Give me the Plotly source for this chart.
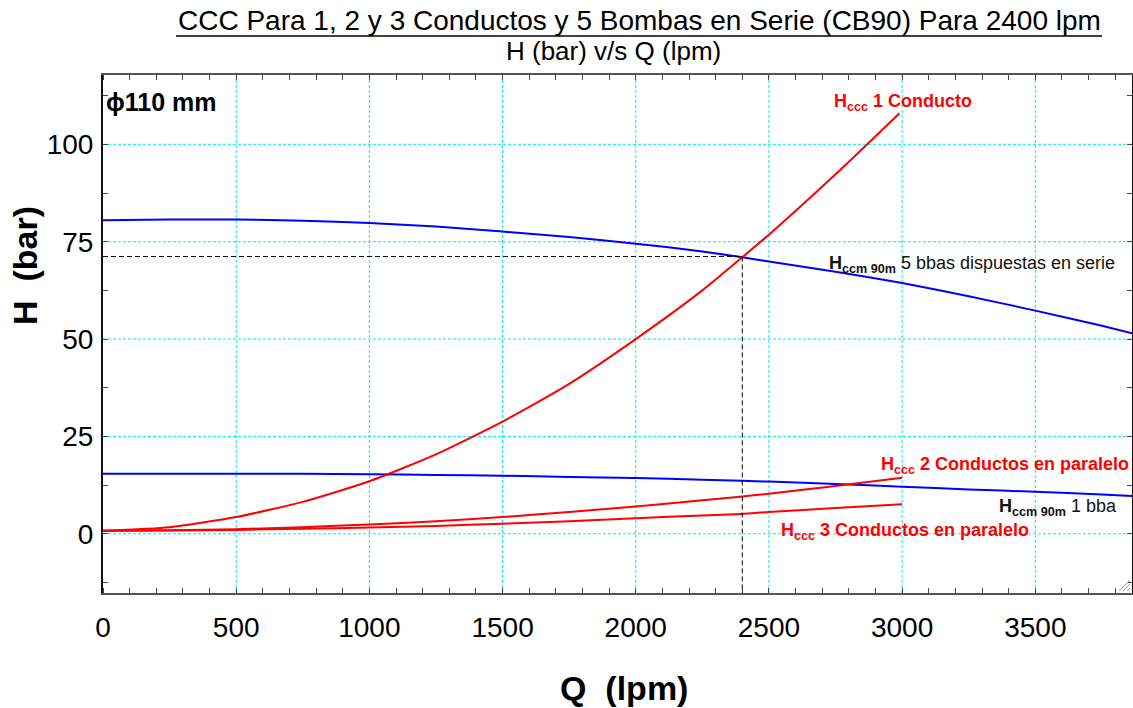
import plotly.graph_objects as go

# ---------------- data ----------------
Q_pump = [0, 250, 500, 750, 1000, 1250, 1500, 1750, 2000, 2250, 2400, 2500, 2750, 3000, 3250, 3500, 3750, 3863]
H_5bbas = [80.5, 80.7, 80.7, 80.4, 79.8, 78.9, 77.6, 76.2, 74.5, 72.5, 71.0, 69.9, 67.3, 64.4, 61.0, 57.3, 53.4, 51.5]
H_1bba = [15.4, 15.4, 15.4, 15.4, 15.3, 15.1, 14.9, 14.6, 14.3, 13.9, 13.6, 13.4, 12.8, 12.1, 11.4, 10.8, 10.1, 9.7]

Q_pipe = [0, 250, 500, 750, 1000, 1250, 1500, 1750, 2000, 2250, 2400, 2500, 2750, 2990]
H_1cond = [0.8, 1.7, 4.3, 8.2, 13.5, 20.4, 28.8, 38.5, 50.0, 62.5, 71.0, 76.8, 92.3, 108.0]
Q_pipe23 = [0, 250, 500, 750, 1000, 1250, 1500, 1750, 2000, 2250, 2400, 2500, 2750, 3000]
H_2cond = [0.8, 0.9, 1.2, 1.7, 2.4, 3.2, 4.3, 5.6, 7.0, 8.6, 9.6, 10.3, 12.3, 14.4]
H_3cond = [0.8, 0.85, 1.0, 1.3, 1.6, 2.0, 2.6, 3.2, 4.0, 4.7, 5.1, 5.6, 6.6, 7.6]

OP_Q = 2400
OP_H = 71.2

X_RANGE = [0, 3863]
Y_RANGE = [-15.2, 117.8]
X_TICKS = [0, 500, 1000, 1500, 2000, 2500, 3000, 3500]
Y_TICKS = [0, 25, 50, 75, 100]
X_MINOR, Y_MINOR = 100, 12.5

TITLE = "CCC Para 1, 2 y 3 Conductos y 5 Bombas en Serie (CB90) Para 2400 lpm"
SUBTITLE = "H (bar) v/s Q (lpm)"

# ---------------- layout helpers (pixel -> paper) ----------------
W, H = 1133, 708
L, R, T, B = 103, 1, 75, 115
PW = W - L - R
PH = H - T - B


def px(x):
    return (x - L) / PW


def py(y):
    return (H - B - y) / PH


FONT = "Arial, 'Liberation Sans', sans-serif"
RED = "#FF0000"
BLUE = "#0000FF"
GRID = "#00EEEE"

fig = go.Figure()


def curve(xs, ys, color):
    fig.add_trace(go.Scatter(x=xs, y=ys, mode="lines",
                             line=dict(color=color, width=2, shape="spline", smoothing=0.6),
                             showlegend=False, hoverinfo="skip"))


curve(Q_pump, H_5bbas, BLUE)
curve(Q_pump, H_1bba, BLUE)
curve(Q_pipe, H_1cond, RED)
curve(Q_pipe23, H_2cond, RED)
curve(Q_pipe23, H_3cond, RED)

# operating point guide lines
fig.add_trace(go.Scatter(x=[X_RANGE[0], OP_Q], y=[OP_H, OP_H], mode="lines",
                         line=dict(color="black", width=1, dash="5px,3px"), showlegend=False, hoverinfo="skip"))
fig.add_trace(go.Scatter(x=[OP_Q, OP_Q], y=[OP_H, Y_RANGE[0]], mode="lines",
                         line=dict(color="black", width=1, dash="5px,3px"), showlegend=False, hoverinfo="skip"))

tickfont = dict(family=FONT, size=28, color="black")

fig.update_layout(
    template="none",
    xaxis=dict(range=X_RANGE, tickmode="array", tickvals=X_TICKS, showgrid=False, zeroline=False, ticks="",
               showline=True, linecolor="#555555", linewidth=2, mirror="allticks", tickfont=tickfont,
               ticklabelstandoff=8,
               minor=dict(dtick=X_MINOR, tick0=0, ticks="inside", ticklen=5, tickcolor="#444444",
                          tickwidth=1, showgrid=False)),
    yaxis=dict(range=Y_RANGE, tickmode="array", tickvals=Y_TICKS, showgrid=False, zeroline=False, ticks="",
               showline=True, linecolor="#111111", linewidth=2, mirror="allticks", tickfont=tickfont,
               ticklabelstandoff=2,
               minor=dict(dtick=Y_MINOR, tick0=0, ticks="inside", ticklen=5, tickcolor="#444444",
                          tickwidth=1, showgrid=False)),
)

shapes = []
# grid lines (cyan, dotted) drawn below the curves
for xv in X_TICKS[1:]:
    shapes.append(dict(type="line", xref="x", yref="paper", x0=xv, x1=xv, y0=0, y1=1, layer="below",
                       line=dict(color=GRID, width=1, dash="3px,2px")))
for yv in Y_TICKS:
    shapes.append(dict(type="line", xref="paper", yref="y", x0=0, x1=1, y0=yv, y1=yv, layer="below",
                       line=dict(color=GRID, width=1, dash="3px,2px")))
# title underline
shapes.append(dict(type="line", xref="paper", yref="paper", x0=px(176), x1=px(1102), y0=py(36), y1=py(36),
                   line=dict(color="black", width=1.5)))
# resize grip
for d in (0, 4, 8):
    shapes.append(dict(type="line", xref="paper", yref="paper",
                       x0=px(1119 + d), y0=py(591), x1=px(1130), y1=py(580 + d),
                       line=dict(color="#999999", width=1)))

ann = []
ann.append(dict(text=TITLE, x=px(639), y=py(21), font=dict(family=FONT, size=28, color="black")))
ann.append(dict(text=SUBTITLE, x=px(613), y=py(51), font=dict(family=FONT, size=26, color="black")))
ann.append(dict(text="<b>H\u00a0 (bar)</b>", x=px(25), y=py(266), textangle=-90,
                font=dict(family=FONT, size=34, color="black")))
ann.append(dict(text="<b>Q\u00a0 (lpm)</b>", x=px(624), y=py(688),
                font=dict(family=FONT, size=34, color="black")))
ann.append(dict(text="<b>\u03d5110 mm</b>", x=px(105), y=py(102), xanchor="left",
                font=dict(family=FONT, size=25, color="black")))

lab = dict(family=FONT, size=18)
ann.append(dict(text="<b>H<sub>ccc</sub> 1 Conducto</b>", x=px(833), y=py(102), xanchor="left",
                font=dict(lab, color=RED)))
ann.append(dict(text="<b>H<sub>ccm 90m</sub></b> 5 bbas dispuestas en serie", x=px(828), y=py(264), xanchor="left",
                font=dict(lab, color="#111111")))
ann.append(dict(text="<b>H<sub>ccc</sub> 2 Conductos en paralelo</b>", x=px(880), y=py(465), xanchor="left",
                font=dict(lab, color=RED)))
ann.append(dict(text="<b>H<sub>ccm 90m</sub></b> 1 bba", x=px(998), y=py(507), xanchor="left",
                font=dict(lab, color="#111111")))
ann.append(dict(text="<b>H<sub>ccc</sub> 3 Conductos en paralelo</b>", x=px(780), y=py(531), xanchor="left",
                font=dict(lab, color=RED)))

for a in ann:
    a.setdefault("xanchor", "center")
    a.setdefault("yanchor", "middle")
    a.update(xref="paper", yref="paper", showarrow=False, borderpad=0)

fig.update_layout(
    width=W, height=H,
    margin=dict(l=L, r=R, t=T, b=B, autoexpand=False),
    plot_bgcolor="white", paper_bgcolor="white",
    annotations=ann, shapes=shapes, showlegend=False,
    font=dict(family=FONT),
)

fig.write_html("out.html", config={"displayModeBar": False})
